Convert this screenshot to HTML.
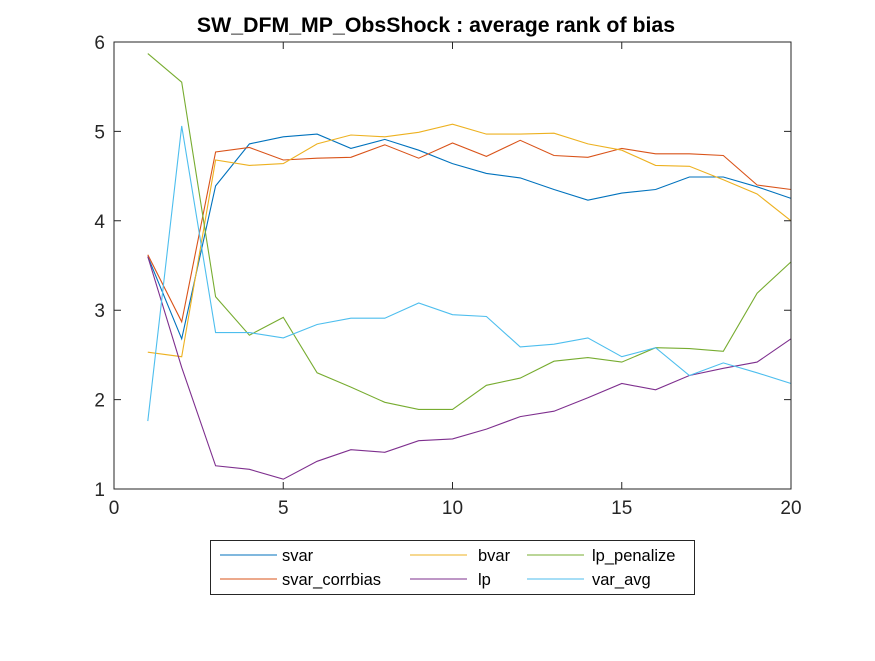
<!DOCTYPE html>
<html><head><meta charset="utf-8"><style>
body{margin:0;background:#fff;}
svg text{font-family:"Liberation Sans",Arial,sans-serif;}
</style></head><body>
<svg id="chart" width="875" height="656" xmlns="http://www.w3.org/2000/svg">
<rect width="875" height="656" fill="#fff"/>
<text x="436" y="32" font-size="21.3" font-weight="bold" text-anchor="middle" fill="#000">SW_DFM_MP_ObsShock : average rank of bias</text>
<g id="plot"></g>
<rect x="114" y="42" width="677" height="447" fill="none" stroke="#262626" stroke-width="1"/>
<g id="ticks"></g>
<g id="legend">
<rect x="210.5" y="540.5" width="484" height="54" fill="#fff" stroke="#262626"/>
</g>
</svg>
<script>
const xs = [1,2,3,4,5,6,7,8,9,10,11,12,13,14,15,16,17,18,19,20];
const svar = [3.6,2.68,4.39,4.86,4.94,4.97,4.81,4.91,4.79,4.64,4.53,4.48,4.35,4.23,4.31,4.35,4.49,4.49,4.38,4.25];
const svarCorrbias = [3.62,2.87,4.77,4.82,4.68,4.70,4.71,4.85,4.70,4.87,4.72,4.90,4.73,4.71,4.81,4.75,4.75,4.73,4.40,4.35];
const bvar = [2.53,2.48,4.68,4.62,4.64,4.86,4.96,4.94,4.99,5.08,4.97,4.97,4.98,4.86,4.79,4.62,4.61,4.46,4.30,4.00];
const lpPenalize = [5.87,5.55,3.15,2.72,2.92,2.30,2.14,1.97,1.89,1.89,2.16,2.24,2.43,2.47,2.42,2.58,2.57,2.54,3.19,3.54];
const lp = [3.60,2.36,1.26,1.22,1.11,1.31,1.44,1.41,1.54,1.56,1.67,1.81,1.87,2.02,2.18,2.11,2.27,2.35,2.42,2.68];
const varAvg = [1.76,5.06,2.75,2.75,2.69,2.84,2.91,2.91,3.08,2.95,2.93,2.59,2.62,2.69,2.48,2.58,2.27,2.41,2.30,2.18];
const xTicks = [0,5,10,15,20];
const yTicks = [1,2,3,4,5,6];
const NS = "http://www.w3.org/2000/svg";
const X0=114,X1=791,Y0=489,Y1=42;
function sx(v){return X0+(v-0)/(20-0)*(X1-X0);}
function sy(v){return Y0-(v-1)/(6-1)*(Y0-Y1);}
const series = [
 {name:"svar",data:svar,color:"#0072BD",lx:220,ly:555,tx:282},
 {name:"svar_corrbias",data:svarCorrbias,color:"#D95319",lx:220,ly:579,tx:282},
 {name:"bvar",data:bvar,color:"#EDB120",lx:410,ly:555,tx:478},
 {name:"lp",data:lp,color:"#7E2F8E",lx:410,ly:579,tx:478},
 {name:"lp_penalize",data:lpPenalize,color:"#77AC30",lx:527,ly:555,tx:592},
 {name:"var_avg",data:varAvg,color:"#4DBEEE",lx:527,ly:579,tx:592}
];
const plot=document.getElementById("plot");
const order=[0,1,2,4,3,5];
order.forEach(i=>{
 const s=series[i];
 const p=document.createElementNS(NS,"polyline");
 p.setAttribute("points",s.data.map((v,k)=>sx(xs[k]).toFixed(1)+","+sy(v).toFixed(1)).join(" "));
 p.setAttribute("fill","none");p.setAttribute("stroke",s.color);p.setAttribute("stroke-width","1.1");
 
 
 plot.appendChild(p);
});
const tk=document.getElementById("ticks");
xTicks.forEach(v=>{
 const x=sx(v);
 const l=document.createElementNS(NS,"path");
 l.setAttribute("d",`M${x},${Y0}v-7M${x},${Y1}v7`);l.setAttribute("stroke","#262626");
 
 
 tk.appendChild(l);
 const t=document.createElementNS(NS,"text");
 t.setAttribute("x",x);t.setAttribute("y",Y0+25);t.setAttribute("font-size","19");t.setAttribute("text-anchor","middle");t.setAttribute("fill","#262626");
 t.textContent=v;
 
 
 tk.appendChild(t);
});
yTicks.forEach(v=>{
 const y=sy(v);
 const l=document.createElementNS(NS,"path");
 l.setAttribute("d",`M${X0},${y}h7M${X1},${y}h-7`);l.setAttribute("stroke","#262626");
 
 
 tk.appendChild(l);
 const t=document.createElementNS(NS,"text");
 t.setAttribute("x",X0-9);t.setAttribute("y",y+7);t.setAttribute("font-size","19");t.setAttribute("text-anchor","end");t.setAttribute("fill","#262626");
 t.textContent=v;
 
 
 tk.appendChild(t);
});
const lg=document.getElementById("legend");
series.forEach(s=>{
 const l=document.createElementNS(NS,"line");
 l.setAttribute("x1",s.lx);l.setAttribute("x2",s.lx+57);l.setAttribute("y1",s.ly);l.setAttribute("y2",s.ly);
 l.setAttribute("stroke",s.color);
 
 
 lg.appendChild(l);
 const t=document.createElementNS(NS,"text");
 t.setAttribute("x",s.tx);t.setAttribute("y",s.ly+6);t.setAttribute("font-size","16.5");t.setAttribute("fill","#000");
 t.textContent=s.name;
 
 
 lg.appendChild(t);
});
</script>
</body></html>
